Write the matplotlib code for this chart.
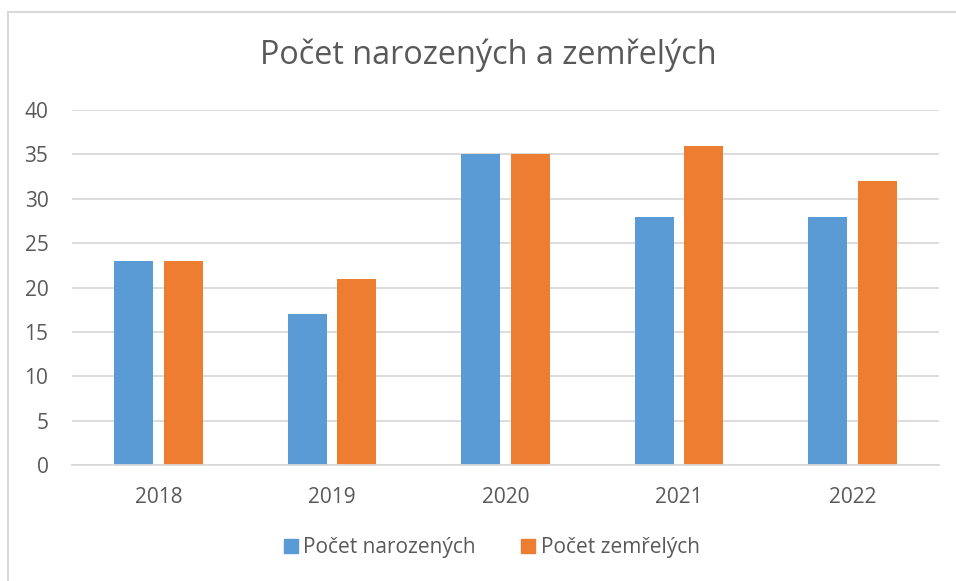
import matplotlib
matplotlib.use('Agg')
import matplotlib.pyplot as plt
import numpy as np
from matplotlib.lines import Line2D

# data
years = ['2018', '2019', '2020', '2021', '2022']
narozeni = [23, 17, 35, 28, 28]
zemreli = [23, 21, 35, 36, 32]

blue = '#5B9BD5'
orange = '#ED7D31'
text_col = '#595959'
grid_col = '#D9D9D9'

plt.rcParams['font.family'] = ['Open Sans', 'DejaVu Sans']

W, H = 956, 581
fig = plt.figure(figsize=(W / 100, H / 100), dpi=100)
ax = fig.add_axes([72 / W, 1 - 465 / H, (939 - 72) / W, (465 - 110) / H])

x = np.arange(len(years))
bw = 0.225
ax.bar(x - 0.143, narozeni, bw, color=blue, label='Počet narozených', zorder=3)
ax.bar(x + 0.143, zemreli, bw, color=orange, label='Počet zemřelých', zorder=3)

ax.set_xlim(-0.5, len(years) - 0.5)
ax.set_ylim(0, 40)
ax.set_yticks(range(0, 41, 5))
ax.set_xticks(x)
ax.set_xticklabels(years)
ax.yaxis.grid(True, color=grid_col, linewidth=1.3, zorder=0)
for s in ['top', 'right', 'left']:
    ax.spines[s].set_visible(False)
ax.spines['bottom'].set_color(grid_col)
ax.spines['bottom'].set_linewidth(1.3)
ax.spines['bottom'].set_zorder(4)
ax.tick_params(axis='both', length=0, labelsize=15, labelcolor=text_col)
ax.tick_params(axis='x', pad=16)
ax.tick_params(axis='y', pad=17)

fig.text(488 / W, 1 - 55 / H, 'Počet narozených a zemřelých', ha='center', va='center',
         fontsize=23.3, color=text_col)

handles = [Line2D([], [], marker='s', linestyle='none', markersize=10.5, color=blue),
           Line2D([], [], marker='s', linestyle='none', markersize=10.5, color=orange)]
fig.legend(handles, ['Počet narozených', 'Počet zemřelých'], loc='center',
           bbox_to_anchor=(490 / W, 1 - 548 / H), ncol=2, frameon=False,
           fontsize=15, labelcolor=text_col, handletextpad=0.1, columnspacing=2.0,
           handlelength=1.0)

# outer chart frame (cut off at right and bottom)
fig.add_artist(Line2D([8 / W, 8 / W], [0, 1 - 12 / H], color=grid_col, linewidth=1.5))
fig.add_artist(Line2D([8 / W, 1], [1 - 12 / H, 1 - 12 / H], color=grid_col, linewidth=1.5))

fig.savefig('out.png', dpi=100)
